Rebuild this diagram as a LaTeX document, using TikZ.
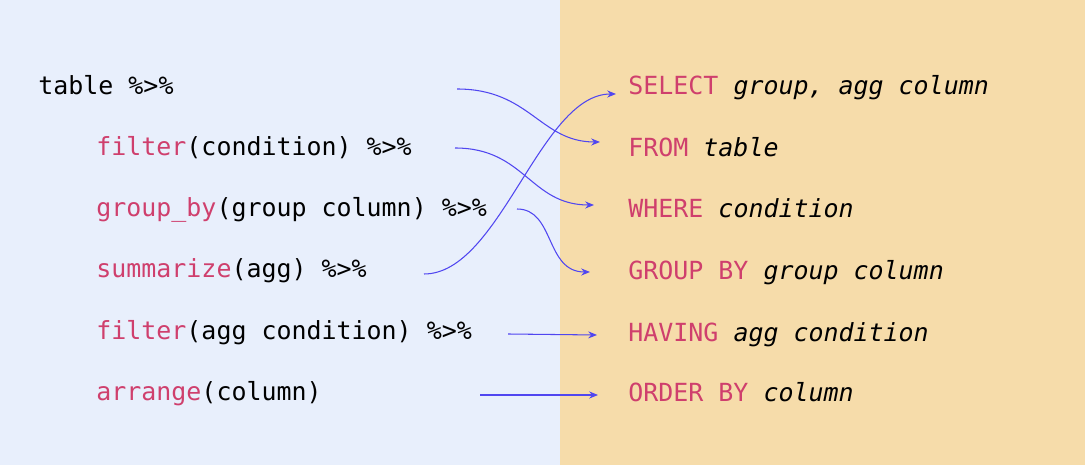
\documentclass[tikz,border=0pt]{standalone}
\usepackage{fontspec}
\setmonofont{DejaVu Sans Mono}
\usepackage{tikz}
\usetikzlibrary{arrows.meta}
\definecolor{leftbg}{HTML}{E8EFFC}
\definecolor{rightbg}{HTML}{F6DCAA}
\definecolor{kw}{HTML}{CF3F6D}
\definecolor{arr}{HTML}{5046F0}
\newcommand{\kw}[1]{\textcolor{kw}{#1}}
\begin{document}
\begin{tikzpicture}[x=0.02cm, y=-0.02cm,
    every node/.style={font=\ttfamily\fontsize{14.2}{17}\selectfont, anchor=base west, inner sep=0pt},
    link/.style={draw=arr, line width=0.6pt, -{Stealth[length=5pt, width=4pt]}}]
            \fill[leftbg] (0,0) rectangle (560,465);
            \fill[rightbg] (560,0) rectangle (1085,465);

            \node (dtable) at (38,95) {table \%>\%};
            \node (dfilter) at (96,156) {\kw{filter}(condition) \%>\%};
            \node (dgroup) at (96,217) {\kw{group\_by}(group column) \%>\%};
            \node (dsumm) at (96,278) {\kw{summarize}(agg) \%>\%};
            \node (dhaving) at (96,340) {\kw{filter}(agg condition) \%>\%};
            \node (darrange) at (96,401) {\kw{arrange}(column)};

            \node (sselect) at (628,95) {\kw{SELECT} \textit{group, agg column}};
            \node (sfrom) at (628,157) {\kw{FROM} \textit{table}};
            \node (swhere) at (628,218) {\kw{WHERE} \textit{condition}};
            \node (sgroup) at (628,280) {\kw{GROUP BY} \textit{group column}};
            \node (shaving) at (628,342) {\kw{HAVING} \textit{agg condition}};
            \node (sorder) at (628,402) {\kw{ORDER BY} \textit{column}};

            \coordinate (a1) at (457,89);   \coordinate (b1) at (600,142);
            \coordinate (a2) at (455,148);  \coordinate (b2) at (594,205);
            \coordinate (a3) at (517,209);  \coordinate (b3) at (590,272);
            \coordinate (a4) at (424,274);  \coordinate (b4) at (616,94);
            \coordinate (a5) at (508,334);  \coordinate (b5) at (597,335);
            \coordinate (a6) at (480,395);  \coordinate (b6) at (598,395);

            \path[link] (a1) .. controls (530,89) and (540,142) .. (b1);
            \path[link] (a2) .. controls (525,148) and (530,205) .. (b2);
            \path[link] (a3) .. controls (555,209) and (545,272) .. (b3);
            \path[link] (a4) .. controls (500,274) and (540,94) .. (b4);
            \path[link] (a5) -- (b5);
            \path[link] (a6) -- (b6);
        \end{tikzpicture}
\end{document}
